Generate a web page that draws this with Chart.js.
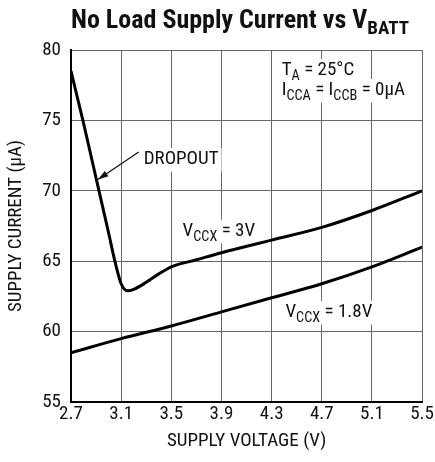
<!DOCTYPE html>
<html>
<head>
<meta charset="utf-8">
<script src="https://cdn.jsdelivr.net/npm/chart.js@4.4.0/dist/chart.umd.min.js"></script>
<style>
  html, body { margin: 0; padding: 0; background: #fff; }
  #wrap { width: 435px; height: 462px; }
</style>
</head>
<body>
<div id="wrap"><canvas id="chart" width="435" height="462"></canvas></div>
<script>
// data
const volt3V = [2.7, 2.8, 2.9, 3.0, 3.05, 3.1, 3.15, 3.2, 3.3, 3.4, 3.5, 3.7, 3.9, 4.3, 4.7, 5.1, 5.5];
const curr3V = [78.5, 74.8, 70.9, 67.0, 65.0, 63.4, 62.9, 63.0, 63.5, 64.1, 64.6, 65.1, 65.6, 66.5, 67.4, 68.6, 70.0];
const volt18V = [2.7, 3.1, 3.5, 3.9, 4.3, 4.7, 5.1, 5.5];
const curr18V = [58.5, 59.5, 60.4, 61.4, 62.4, 63.4, 64.6, 66.0];
const xTicks = [2.7, 3.1, 3.5, 3.9, 4.3, 4.7, 5.1, 5.5];
const yTicks = [55, 60, 65, 70, 75, 80];

const FONT = '"Roboto Condensed", "Liberation Sans", Arial, sans-serif';
const TXT = 19;

// text notes: parts, anchor volt, anchor current (baseline)
const noteList = [
  [[{t: 'T'}, {t: 'A', sub: true}, {t: ' = 25°C'}], 4.38, 78.22],
  [[{t: 'I'}, {t: 'CCA', sub: true}, {t: ' = I'}, {t: 'CCB', sub: true}, {t: ' = 0µA'}], 4.38, 76.8],
  [[{t: 'DROPOUT'}], 3.28, 71.9],
  [[{t: 'V'}, {t: 'CCX', sub: true}, {t: ' = 3V'}], 3.59, 66.8],
  [[{t: 'V'}, {t: 'CCX', sub: true}, {t: ' = 1.8V'}], 4.41, 61.04]
];

function partsWidth(ctx, parts, size) {
  let w = 0;
  parts.forEach(p => {
    ctx.font = `${p.sub ? size * 0.75 : size}px ${FONT}`;
    w += ctx.measureText(p.t).width;
  });
  return w;
}

// draws text with a subscript part
function subText(ctx, parts, x, y, size) {
  let cx = x;
  parts.forEach(p => {
    const s = p.sub ? size * 0.75 : size;
    ctx.font = `${s}px ${FONT}`;
    ctx.fillText(p.t, cx, p.sub ? y + size * 0.28 : y);
    cx += ctx.measureText(p.t).width;
  });
}

const notes = {
  id: 'notes',
  beforeDatasetsDraw(chart) {
    // white gaps in the grid behind the labels
    const ctx = chart.ctx;
    const xs = chart.scales.x, ys = chart.scales.y;
    ctx.save();
    ctx.fillStyle = '#fff';
    noteList.forEach(([parts, v, c]) => {
      const x = xs.getPixelForValue(v), y = ys.getPixelForValue(c);
      ctx.fillRect(x - 3, y - TXT * 0.85, partsWidth(ctx, parts, TXT) + 6, TXT * 1.25);
    });
    ctx.restore();
  },
  afterDraw(chart) {
    const ctx = chart.ctx;
    const xs = chart.scales.x, ys = chart.scales.y;
    ctx.save();
    ctx.textBaseline = 'alphabetic';
    ctx.textAlign = 'left';

    // title
    ctx.fillStyle = '#111';
    ctx.font = `bold 26px ${FONT}`;
    const main = 'No Load Supply Current vs V';
    const mw = ctx.measureText(main).width;
    ctx.font = `bold 19px ${FONT}`;
    const tw = mw + ctx.measureText('BATT').width;
    const tx = 240 - tw / 2;
    ctx.font = `bold 26px ${FONT}`;
    ctx.fillText(main, tx, 28);
    ctx.font = `bold 19px ${FONT}`;
    ctx.fillText('BATT', tx + mw, 34);

    const px = v => xs.getPixelForValue(v);
    const py = v => ys.getPixelForValue(v);

    noteList.forEach(([parts, v, c]) => subText(ctx, parts, px(v), py(c), TXT));

    // dropout arrow
    const ax0 = px(3.24), ay0 = py(72.76);
    const ax1 = px(2.915), ay1 = py(70.8);
    ctx.strokeStyle = '#111';
    ctx.lineWidth = 1.2;
    ctx.beginPath();
    ctx.moveTo(ax0, ay0);
    ctx.lineTo(ax1, ay1);
    ctx.stroke();
    const ang = Math.atan2(ay1 - ay0, ax1 - ax0);
    ctx.beginPath();
    ctx.moveTo(ax1, ay1);
    ctx.lineTo(ax1 - 11 * Math.cos(ang - 0.3), ay1 - 11 * Math.sin(ang - 0.3));
    ctx.lineTo(ax1 - 11 * Math.cos(ang + 0.3), ay1 - 11 * Math.sin(ang + 0.3));
    ctx.closePath();
    ctx.fill();
    ctx.restore();
  }
};

new Chart(document.getElementById('chart'), {
  type: 'line',
  data: {
    datasets: [
      {
        label: 'VCCX = 3V',
        data: volt3V.map((v, i) => ({x: v, y: curr3V[i]})),
        borderColor: '#000',
        borderWidth: 3,
        pointRadius: 0,
        cubicInterpolationMode: 'monotone'
      },
      {
        label: 'VCCX = 1.8V',
        data: volt18V.map((v, i) => ({x: v, y: curr18V[i]})),
        borderColor: '#000',
        borderWidth: 3,
        pointRadius: 0,
        cubicInterpolationMode: 'monotone'
      }
    ]
  },
  options: {
    responsive: false,
    animation: false,
    layout: { padding: { top: 50, right: 11, left: 0, bottom: 0 } },
    plugins: { legend: { display: false }, tooltip: { enabled: false } },
    scales: {
      x: {
        type: 'linear',
        min: 2.7,
        max: 5.5,
        afterBuildTicks: s => { s.ticks = xTicks.map(v => ({value: v})); },
        afterFit: s => { s.height = 60; },
        ticks: {
          callback: v => v.toFixed(1),
          color: '#111',
          font: { family: FONT, size: TXT },
          padding: 1,
          maxRotation: 0,
          autoSkip: false
        },
        grid: { color: '#666', lineWidth: 1, drawTicks: false },
        border: { color: '#000', width: 2 },
        title: {
          display: true,
          text: 'SUPPLY VOLTAGE (V)',
          color: '#111',
          font: { family: FONT, size: TXT },
          padding: { top: 0, bottom: 9 }
        }
      },
      y: {
        min: 55,
        max: 80,
        afterBuildTicks: s => { s.ticks = yTicks.map(v => ({value: v})); },
        afterFit: s => { s.width = 71; },
        ticks: {
          color: '#111',
          font: { family: FONT, size: TXT },
          padding: 10
        },
        grid: { color: '#666', lineWidth: 1, drawTicks: false },
        border: { color: '#000', width: 2 },
        title: {
          display: true,
          text: 'SUPPLY CURRENT (µA)',
          color: '#111',
          font: { family: FONT, size: TXT },
          padding: { top: 5, bottom: 0 }
        }
      }
    }
  },
  plugins: [notes]
});
</script>
</body>
</html>
